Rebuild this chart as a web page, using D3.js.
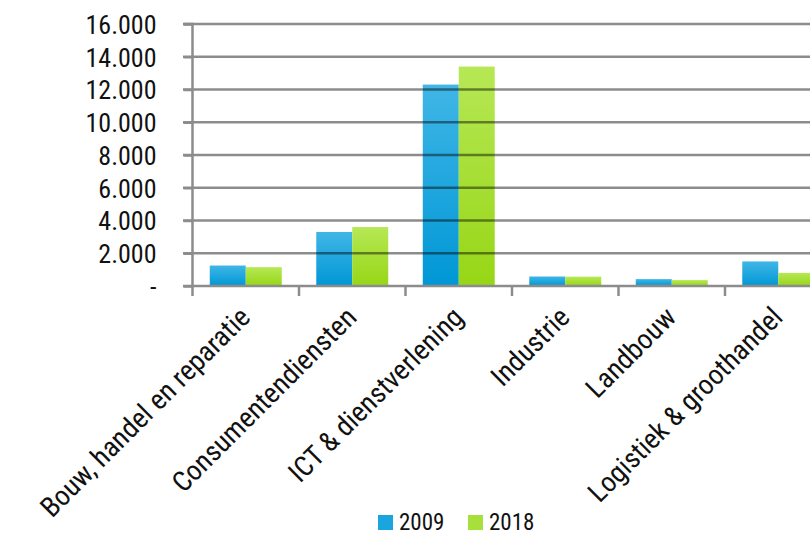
<!DOCTYPE html>
<html><head><meta charset="utf-8">
<script src="https://cdn.jsdelivr.net/npm/d3@7"></script>
<style>
body{margin:0;background:#fff;}
svg{display:block;}
text{font-family:"Liberation Sans Narrow","Arial Narrow","Roboto Condensed",sans-serif;fill:#111;}
</style></head>
<body>
<svg id="chart" width="810" height="535"></svg>
<script>
const categories = ["Bouw, handel en reparatie","Consumentendiensten","ICT & dienstverlening","Industrie","Landbouw","Logistiek & groothandel"];
const series = ["2009","2018"];
const values2009 = [1250, 3300, 12300, 580, 420, 1500];
const values2018 = [1150, 3600, 13400, 570, 360, 800];
const yTicks = [0,2000,4000,6000,8000,10000,12000,14000,16000];
const yTickLabels = ["-","2.000","4.000","6.000","8.000","10.000","12.000","14.000","16.000"];

const svg = d3.select("#chart");
const x0 = 192.5, x1 = 831.5, yTop = 24, yBot = 286;
const x = d3.scaleBand().domain(categories).range([x0, x1]).paddingInner(0).paddingOuter(0);
const xs = d3.scaleBand().domain(series).range([0, x.bandwidth()]).paddingInner(0).paddingOuter(0.48);
const y = d3.scaleLinear().domain([0,16000]).range([yBot, yTop]);

const defs = svg.append("defs");
const gradB = defs.append("linearGradient").attr("id","gB").attr("x1",0).attr("y1",0).attr("x2",0).attr("y2",1);
gradB.append("stop").attr("offset","0%").attr("stop-color","#40b6e6");
gradB.append("stop").attr("offset","100%").attr("stop-color","#0097d6");
const gradG = defs.append("linearGradient").attr("id","gG").attr("x1",0).attr("y1",0).attr("x2",0).attr("y2",1);
gradG.append("stop").attr("offset","0%").attr("stop-color","#b6e855");
gradG.append("stop").attr("offset","100%").attr("stop-color","#97d616");
const fills = {"2009":"url(#gB)","2018":"url(#gG)"};
const legendFills = {"2009":"#1aa5de","2018":"#a7e03a"};

const data = categories.map((c,i)=>({c, v:{"2009":values2009[i],"2018":values2018[i]}}));

// bars
const g = svg.append("g");
data.forEach(d=>{
  series.forEach(s=>{
    g.append("rect")
      .attr("x", x(d.c)+xs(s))
      .attr("width", xs.bandwidth())
      .attr("y", y(d.v[s]))
      .attr("height", yBot - y(d.v[s]))
      .attr("fill", fills[s]);
  });
});

// gridlines (drawn over bars, semi-transparent)
const grid = svg.append("g");
yTicks.filter(t=>t>0).forEach(t=>{
  grid.append("line").attr("x1",183).attr("x2",810)
    .attr("y1",y(t)).attr("y2",y(t))
    .attr("stroke","#000").attr("stroke-opacity",0.45).attr("stroke-width",2.5);
});

// y axis
const yAxis = d3.axisLeft(y).tickValues(yTicks).tickFormat((d,i)=>yTickLabels[i]).tickSize(9).tickPadding(27);
const ya = svg.append("g").attr("transform",`translate(${x0},0)`).call(yAxis);
ya.select(".domain").attr("stroke","#8c8c8c").attr("stroke-width",2.5).attr("d",`M-9,${yTop}H0V${yBot+10}`);
ya.selectAll(".tick line").attr("stroke","#8c8c8c").attr("stroke-width",2.5);
ya.selectAll(".tick text").style("font-size","26px").attr("fill","#111").attr("dy","0.36em");

// x axis baseline and ticks
const xa = svg.append("g");
xa.append("line").attr("x1",183).attr("x2",810).attr("y1",yBot).attr("y2",yBot)
  .attr("stroke","#8c8c8c").attr("stroke-width",2.5);
categories.forEach(c=>{
  xa.append("line").attr("x1",x(c)+x.bandwidth()).attr("x2",x(c)+x.bandwidth())
    .attr("y1",yBot).attr("y2",yBot+10).attr("stroke","#8c8c8c").attr("stroke-width",2.5);
});
categories.forEach(c=>{
  const cx = x(c)+x.bandwidth()/2;
  xa.append("text")
    .attr("transform",`translate(${cx+6},${yBot+33}) rotate(-45)`)
    .attr("text-anchor","end")
    .style("font-size","28px")
    .text(c);
});

// legend
const lg = svg.append("g");
const legX = [378, 468];
series.forEach((s,i)=>{
  lg.append("rect").attr("x",legX[i]).attr("y",515).attr("width",15).attr("height",15).attr("fill",legendFills[s]);
  lg.append("text").attr("x",legX[i]+21).attr("y",530).style("font-size","23px").text(s);
});
</script>
</body></html>
